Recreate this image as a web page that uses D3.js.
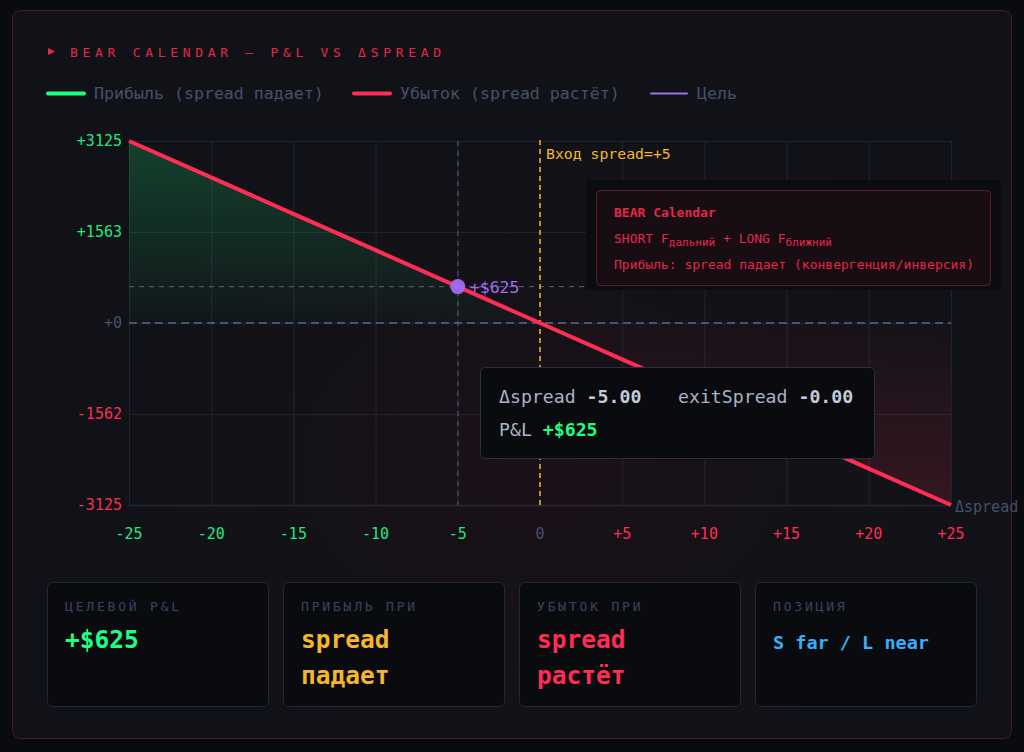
<!DOCTYPE html>
<html>
<head>
<meta charset="utf-8">
<script src="https://cdn.jsdelivr.net/npm/d3@7"></script>
<style>
  html, body { margin: 0; padding: 0; background: #0a0b0f; }
  svg { display: block; font-family: "DejaVu Sans Mono", "Liberation Mono", monospace; }
</style>
</head>
<body>
<div id="chart"></div>
<script>
// --- data ---
const deltaSpread = [-25, -20, -15, -10, -5, 0, 5, 10, 15, 20, 25];
const pnl = [3125, 2500, 1875, 1250, 625, 0, -625, -1250, -1875, -2500, -3125];
const xTicks = [-25, -20, -15, -10, -5, 0, 5, 10, 15, 20, 25];
const yTicks = [3125, 1562.5, 0, -1562.5, -3125];
const yTickLabels = ["+3125", "+1563", "+0", "-1562", "-3125"];
const targetDelta = -5;
const targetPnl = 625;
const entryDelta = 0;
const legendItems = ["Прибыль (spread падает)", "Убыток (spread растёт)", "Цель"];
const cardLabels = ["ЦЕЛЕВОЙ P&L", "ПРИБЫЛЬ ПРИ", "УБЫТОК ПРИ", "ПОЗИЦИЯ"];
const cardValues = [["+$625"], ["spread", "падает"], ["spread", "растёт"], ["S far / L near"]];

const W = 1024, H = 752;
const C = {
  green: "#1ee87f", greenLine: "#1dff84", red: "#ff2d55", title: "#e3284b",
  purple: "#a06cf0", yellow: "#f5b62e", blue: "#38aefc",
  grid: "#1f2331", muted: "#46506a", dash: "#4a5470"
};

const svg = d3.select("#chart").append("svg").attr("width", W).attr("height", H);
const defs = svg.append("defs");

let glow = defs.append("radialGradient").attr("id", "glow")
  .attr("cx", "0.53").attr("cy", "0.62").attr("r", "0.5");
glow.append("stop").attr("offset", "0").attr("stop-color", "#2a0f18").attr("stop-opacity", 0.45);
glow.append("stop").attr("offset", "1").attr("stop-color", "#111217").attr("stop-opacity", 0);

let gGreen = defs.append("linearGradient").attr("id", "gGreen").attr("x1", 0).attr("y1", 0).attr("x2", 0).attr("y2", 1);
gGreen.append("stop").attr("offset", "0").attr("stop-color", "#1dff84").attr("stop-opacity", 0.2);
gGreen.append("stop").attr("offset", "1").attr("stop-color", "#1dff84").attr("stop-opacity", 0.02);
let gRed = defs.append("linearGradient").attr("id", "gRed").attr("x1", 0).attr("y1", 0).attr("x2", 0).attr("y2", 1);
gRed.append("stop").attr("offset", "0").attr("stop-color", "#ff2d55").attr("stop-opacity", 0.02);
gRed.append("stop").attr("offset", "1").attr("stop-color", "#ff2d55").attr("stop-opacity", 0.15);

// card
svg.append("rect").attr("x", 12.5).attr("y", 10.5).attr("width", 999).attr("height", 728)
  .attr("rx", 8).attr("fill", "#111217").attr("stroke", "#4a1a29").attr("stroke-width", 1);
svg.append("rect").attr("x", 13).attr("y", 11).attr("width", 998).attr("height", 727)
  .attr("rx", 8).attr("fill", "url(#glow)");

// title
svg.append("path").attr("d", "M48,48 L55,51.5 L48,55 Z").attr("fill", C.title);
svg.append("text").attr("x", 70).attr("y", 57).text("BEAR CALENDAR — P&L VS ΔSPREAD")
  .attr("fill", C.title).attr("font-size", 13).attr("letter-spacing", 4.7);

// legend
const legX = [48, 354, 651];
const legCol = [C.greenLine, C.red, C.purple];
legendItems.forEach((t, i) => {
  svg.append("line").attr("x1", legX[i]).attr("x2", legX[i] + 36).attr("y1", 93.5).attr("y2", 93.5)
    .attr("stroke", legCol[i]).attr("stroke-width", i == 2 ? 2 : 4).attr("stroke-linecap", "round");
  svg.append("text").attr("x", legX[i] + 46).attr("y", 99).text(t)
    .attr("fill", C.muted).attr("font-size", 16.6);
});

// scales
const x = d3.scaleLinear().domain([-25, 25]).range([129, 951]);
const y = d3.scaleLinear().domain([-3125, 3125]).range([505, 141]);
const pts = deltaSpread.map((d, i) => ({ d: d, v: pnl[i] }));

const plot = svg.append("g");

// grid
plot.selectAll(".vg").data(xTicks).enter().append("line")
  .attr("x1", d => x(d) + 0.5).attr("x2", d => x(d) + 0.5).attr("y1", y(3125)).attr("y2", y(-3125))
  .attr("stroke", C.grid).attr("stroke-width", 1.2);
plot.selectAll(".hg").data(yTicks).enter().append("line")
  .attr("x1", x(-25)).attr("x2", x(25)).attr("y1", d => y(d) + 0.5).attr("y2", d => y(d) + 0.5)
  .attr("stroke", C.grid).attr("stroke-width", 1.2);
plot.append("line").attr("x1", x(-25)).attr("x2", x(25)).attr("y1", y(-3125) + 0.5).attr("y2", y(-3125) + 0.5)
  .attr("stroke", "#262b3a").attr("stroke-width", 1.5);

// areas
const area = d3.area().x(d => x(d.d)).y0(y(0)).y1(d => y(d.v));
plot.append("path").datum(pts.filter(p => p.v >= 0)).attr("d", area).attr("fill", "url(#gGreen)");
plot.append("path").datum(pts.filter(p => p.v <= 0)).attr("d", area).attr("fill", "url(#gRed)");

// zero line
plot.append("line").attr("x1", x(-25)).attr("x2", x(25)).attr("y1", y(0)).attr("y2", y(0))
  .attr("stroke", C.dash).attr("stroke-width", 2).attr("stroke-dasharray", "8,5");
// target lines
plot.append("line").attr("x1", x(-25)).attr("x2", x(25)).attr("y1", y(targetPnl)).attr("y2", y(targetPnl))
  .attr("stroke", C.dash).attr("stroke-width", 1.2).attr("stroke-dasharray", "5,5");
plot.append("line").attr("x1", x(targetDelta)).attr("x2", x(targetDelta)).attr("y1", y(3125)).attr("y2", y(-3125))
  .attr("stroke", C.dash).attr("stroke-width", 1.2).attr("stroke-dasharray", "5,5");
// entry line
plot.append("line").attr("x1", x(entryDelta)).attr("x2", x(entryDelta)).attr("y1", y(3125) - 1).attr("y2", y(-3125))
  .attr("stroke", C.yellow).attr("stroke-width", 1.5).attr("stroke-dasharray", "5,4");
plot.append("text").attr("x", x(entryDelta) + 6).attr("y", 159).text("Вход spread=+5")
  .attr("fill", C.yellow).attr("font-size", 14.8);

// P&L line
plot.append("path").datum(pts)
  .attr("d", d3.line().x(d => x(d.d)).y(d => y(d.v)))
  .attr("fill", "none").attr("stroke", C.red).attr("stroke-width", 4);

// target marker
plot.append("circle").attr("cx", x(targetDelta)).attr("cy", y(targetPnl)).attr("r", 7.5)
  .attr("fill", C.purple).attr("opacity", 0.95);
plot.append("text").attr("x", x(targetDelta) + 12).attr("y", y(targetPnl) + 6).text("+$625")
  .attr("fill", C.purple).attr("font-size", 16.5);

// axes labels
svg.selectAll(".xt").data(xTicks).enter().append("text")
  .attr("x", d => x(d)).attr("y", 539).attr("text-anchor", "middle")
  .attr("font-size", 15)
  .attr("fill", d => d < 0 ? C.green : d > 0 ? C.red : C.muted)
  .text(d => d > 0 ? "+" + d : String(d));
svg.selectAll(".yt").data(yTicks).enter().append("text")
  .attr("x", 122).attr("y", d => y(d) + 5).attr("text-anchor", "end")
  .attr("font-size", 15)
  .attr("fill", d => d > 0 ? C.green : d < 0 ? C.red : C.muted)
  .text((d, i) => yTickLabels[i]);
svg.append("text").attr("x", 955).attr("y", 512).text("Δspread")
  .attr("fill", C.muted).attr("font-size", 15);

// info box
svg.append("rect").attr("x", 586).attr("y", 180).attr("width", 415).attr("height", 110).attr("fill", "#0b0c10");
svg.append("rect").attr("x", 596.5).attr("y", 190.5).attr("width", 394).attr("height", 95).attr("rx", 4)
  .attr("fill", "#170d12").attr("stroke", "#5c1c2e");
const info = svg.append("g").attr("fill", C.title).attr("font-size", 13);
info.append("text").attr("x", 614).attr("y", 217).attr("font-weight", "bold").text("BEAR Calendar");
let t2 = info.append("text").attr("x", 614).attr("y", 243);
t2.append("tspan").text("SHORT F");
t2.append("tspan").attr("font-size", 11).attr("dy", 3).text("дальний");
t2.append("tspan").attr("dy", -3).text(" + LONG F");
t2.append("tspan").attr("font-size", 11).attr("dy", 3).text("ближний");
info.append("text").attr("x", 614).attr("y", 269).text("Прибыль: spread падает (конвергенция/инверсия)");

// tooltip
svg.append("rect").attr("x", 480.5).attr("y", 367.5).attr("width", 394).attr("height", 91).attr("rx", 4)
  .attr("fill", "#0a0b0f").attr("stroke", "#2a2f3e");
const tip = svg.append("g").attr("font-size", 18.2).attr("fill", "#a9b3c6");
let r1 = tip.append("text").attr("x", 499).attr("y", 403);
r1.append("tspan").text("Δspread ");
r1.append("tspan").attr("font-weight", "bold").attr("fill", "#c3cbda").text("-5.00");
let r1b = tip.append("text").attr("x", 678).attr("y", 403);
r1b.append("tspan").text("exitSpread ");
r1b.append("tspan").attr("font-weight", "bold").attr("fill", "#c3cbda").text("-0.00");
let r2 = tip.append("text").attr("x", 499).attr("y", 436);
r2.append("tspan").text("P&L ");
r2.append("tspan").attr("font-weight", "bold").attr("fill", C.greenLine).text("+$625");

// stat cards
const cardX = [47, 283, 519, 755];
const cardCol = [C.greenLine, C.yellow, C.red, C.blue];
cardLabels.forEach((lab, i) => {
  const g = svg.append("g").attr("transform", `translate(${cardX[i]},582)`);
  g.append("rect").attr("x", 0.5).attr("y", 0.5).attr("width", 221).attr("height", 124).attr("rx", 5)
    .attr("fill", "#0a0b0f").attr("stroke", "#23263a");
  g.append("text").attr("x", 18).attr("y", 29).text(lab)
    .attr("fill", "#3a4460").attr("font-size", 13).attr("letter-spacing", 2.8);
  cardValues[i].forEach((v, j) => {
    g.append("text").attr("x", 18).attr("y", (i == 3 ? 67 : 66) + j * 36).text(v)
      .attr("fill", cardCol[i]).attr("font-weight", "bold").attr("font-size", i == 3 ? 18.5 : 24.5);
  });
});
</script>
</body>
</html>
